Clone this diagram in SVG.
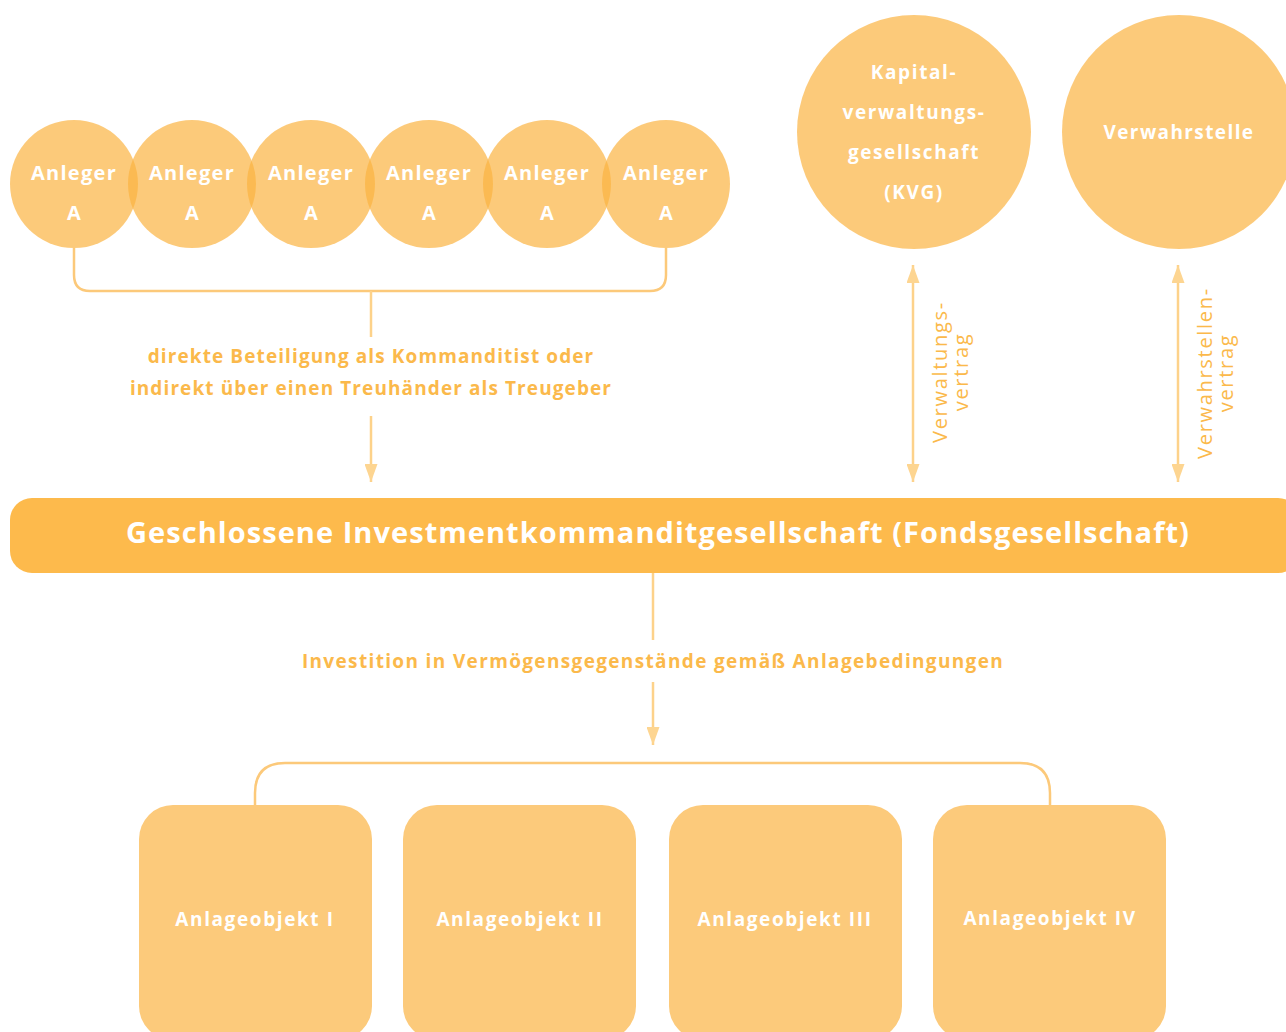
<svg xmlns="http://www.w3.org/2000/svg" width="1286" height="1032" viewBox="0 0 1286 1032">
<defs>
<style>
.circ{fill:#FBB442;fill-opacity:0.7}
.box{fill:#FCCA7B}
.wt{fill:#FFFFFF;font-family:"Open Sans","DejaVu Sans",sans-serif;font-weight:700;text-anchor:middle}
.lbl{fill:#FBB94B;font-family:"Open Sans","DejaVu Sans",sans-serif;font-weight:700;text-anchor:middle;font-size:19px;letter-spacing:1.1px}
.rot{fill:#FBB94B;font-family:"Open Sans","DejaVu Sans",sans-serif;font-weight:400;text-anchor:middle;font-size:20px;letter-spacing:1.7px}
.con{fill:none;stroke:#FDD28A;stroke-width:2.5}
.brk{fill:none;stroke:#FCC97A;stroke-width:2.5}
</style>
<marker id="ah2" viewBox="0 0 18 13" refX="18" refY="6.5" markerWidth="18" markerHeight="13" markerUnits="userSpaceOnUse" orient="auto-start-reverse">
<path d="M0,0 L18,6.5 L0,13 Z" fill="#FDD591"/>
</marker>
</defs>
<rect width="1286" height="1032" fill="#FFFFFF"/>

<g id="connectors">
<path class="brk" d="M74,248 V275 Q74,291 90,291 H650 Q666,291 666,275 V248"/>
<path class="con" d="M371,291 V337"/>
<path class="con" d="M371,416 V482" marker-end="url(#ah2)"/>
<path class="con" d="M913,265 V482" marker-start="url(#ah2)" marker-end="url(#ah2)"/>
<path class="con" d="M1178,265 V482" marker-start="url(#ah2)" marker-end="url(#ah2)"/>
<path class="con" d="M653,573 V640"/>
<path class="con" d="M653,682 V745" marker-end="url(#ah2)"/>
<path class="brk" d="M255,805 V793 Q255,763 285,763 H1020 Q1050,763 1050,793 V805"/>
</g>

<g id="anleger1"><circle class="circ" cx="74" cy="184" r="64"/><text class="wt" x="74" y="180" font-size="20" letter-spacing="1.3">Anleger</text><text class="wt" x="74" y="220" font-size="20">A</text></g>
<g id="anleger2"><circle class="circ" cx="192" cy="184" r="64"/><text class="wt" x="192" y="180" font-size="20" letter-spacing="1.3">Anleger</text><text class="wt" x="192" y="220" font-size="20">A</text></g>
<g id="anleger3"><circle class="circ" cx="311" cy="184" r="64"/><text class="wt" x="311" y="180" font-size="20" letter-spacing="1.3">Anleger</text><text class="wt" x="311" y="220" font-size="20">A</text></g>
<g id="anleger4"><circle class="circ" cx="429" cy="184" r="64"/><text class="wt" x="429" y="180" font-size="20" letter-spacing="1.3">Anleger</text><text class="wt" x="429" y="220" font-size="20">A</text></g>
<g id="anleger5"><circle class="circ" cx="547" cy="184" r="64"/><text class="wt" x="547" y="180" font-size="20" letter-spacing="1.3">Anleger</text><text class="wt" x="547" y="220" font-size="20">A</text></g>
<g id="anleger6"><circle class="circ" cx="666" cy="184" r="64"/><text class="wt" x="666" y="180" font-size="20" letter-spacing="1.3">Anleger</text><text class="wt" x="666" y="220" font-size="20">A</text></g>

<g id="label-beteiligung">
<text class="lbl" x="371" y="363">direkte Beteiligung als Kommanditist oder</text>
<text class="lbl" x="371" y="395">indirekt über einen Treuhänder als Treugeber</text>
</g>

<g id="kvg"><circle class="circ" cx="914" cy="132" r="117"/>
<text class="wt" font-size="19" letter-spacing="1.6"><tspan x="914" y="79">Kapital-</tspan><tspan x="914" y="119">verwaltungs-</tspan><tspan x="914" y="159">gesellschaft</tspan><tspan x="914" y="199">(KVG)</tspan></text></g>

<g id="verwahrstelle"><circle class="circ" cx="1179" cy="132" r="117"/>
<text class="wt" x="1179" y="139" font-size="19" letter-spacing="1.4">Verwahrstelle</text></g>

<g id="label-verwaltungsvertrag">
<text class="rot" transform="translate(947,372) rotate(-90)" x="0" y="0">Verwaltungs-</text>
<text class="rot" transform="translate(968,372) rotate(-90)" x="0" y="0">vertrag</text>
</g>
<g id="label-verwahrstellenvertrag">
<text class="rot" transform="translate(1212,373) rotate(-90)" x="0" y="0">Verwahrstellen-</text>
<text class="rot" transform="translate(1233,373) rotate(-90)" x="0" y="0">vertrag</text>
</g>

<g id="fondsgesellschaft"><rect x="10" y="498" width="1290" height="75" rx="22" fill="#FDBA4C"/>
<text class="wt" x="658" y="543" font-size="29" letter-spacing="1.05">Geschlossene Investmentkommanditgesellschaft (Fondsgesellschaft)</text></g>

<g id="label-investition">
<text class="lbl" x="653" y="668" style="letter-spacing:1.35px">Investition in Vermögensgegenstände gemäß Anlagebedingungen</text>
</g>

<g id="objekt1"><rect class="box" x="139" y="805" width="233" height="235" rx="34"/><text class="wt" x="255" y="926" font-size="19" letter-spacing="1.6">Anlageobjekt I</text></g>
<g id="objekt2"><rect class="box" x="403" y="805" width="233" height="235" rx="34"/><text class="wt" x="520" y="926" font-size="19" letter-spacing="1.6">Anlageobjekt II</text></g>
<g id="objekt3"><rect class="box" x="669" y="805" width="233" height="235" rx="34"/><text class="wt" x="785" y="926" font-size="19" letter-spacing="1.6">Anlageobjekt III</text></g>
<g id="objekt4"><rect class="box" x="933" y="805" width="233" height="235" rx="34"/><text class="wt" x="1050" y="925" font-size="19" letter-spacing="1.6">Anlageobjekt IV</text></g>
</svg>
